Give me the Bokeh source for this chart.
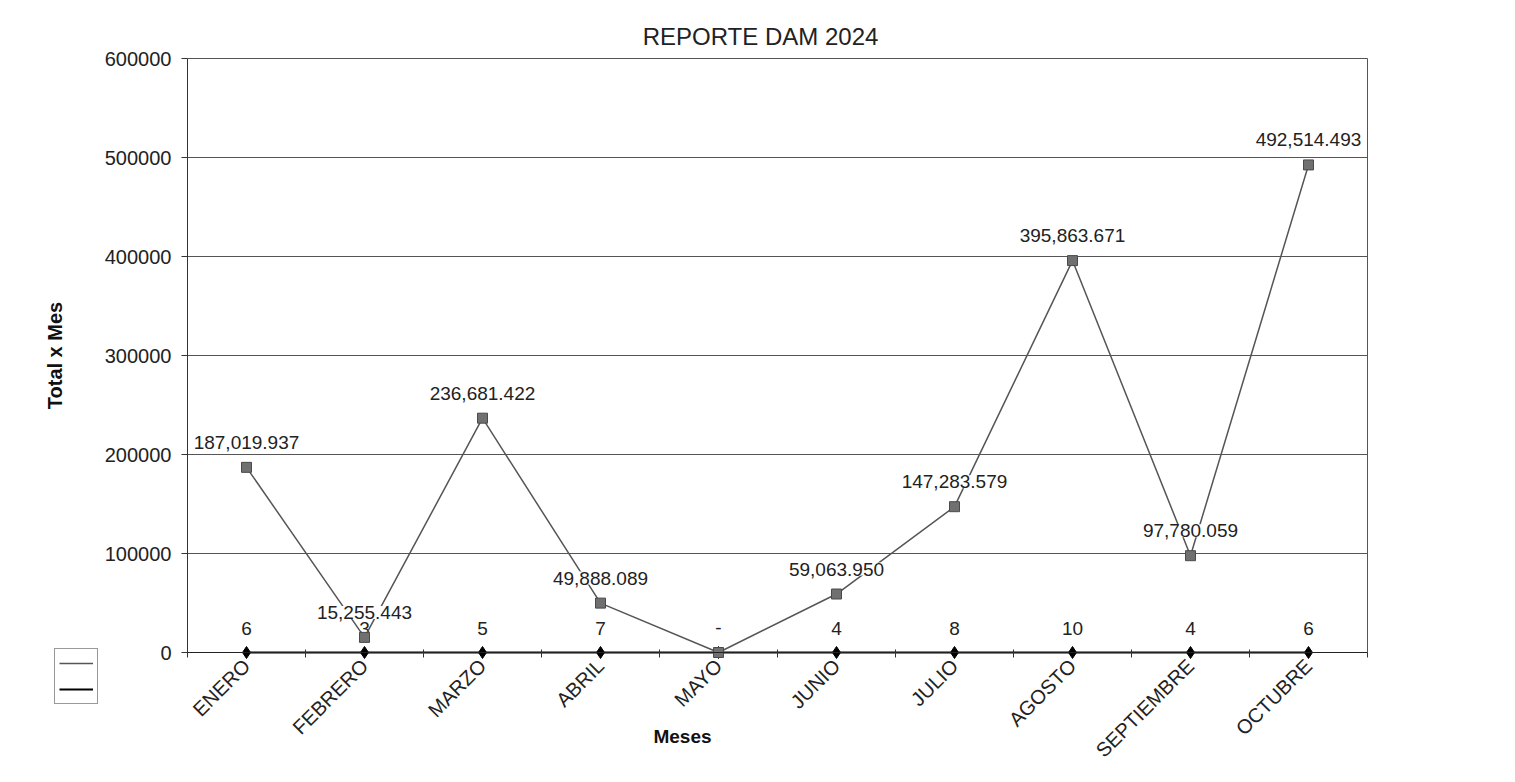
import math
from bokeh.plotting import figure
from bokeh.models import (ColumnDataSource, FixedTicker, LabelSet, Label, Legend,
                          LegendItem, BasicTickFormatter, Range1d, LinearAxis)
from bokeh.core.properties import value
from bokeh.embed import file_html
from bokeh.resources import INLINE

# ---- data ----
months = ["ENERO", "FEBRERO", "MARZO", "ABRIL", "MAYO", "JUNIO",
          "JULIO", "AGOSTO", "SEPTIEMBRE", "OCTUBRE"]
totals = [187019.937, 15255.443, 236681.422, 49888.089, 0.0, 59063.950,
          147283.579, 395863.671, 97780.059, 492514.493]
counts = [6, 3, 5, 7, 0, 4, 8, 10, 4, 6]
y_ticks = [0, 100000, 200000, 300000, 400000, 500000, 600000]
title_text = "REPORTE DAM 2024"
x_title = "Meses"
y_title = "Total x Mes"

x = list(range(1, len(months) + 1))
total_labels = ["-" if v == 0 else "{:,.3f}".format(v) for v in totals]
count_labels = ["" if c == 0 else str(c) for c in counts]

FONT = "Liberation Sans"
W, H = 1507, 774
PX_X = 118.0                   # px per category
PX_Y = 594.0 / 600000.0        # px per unit of value
AX_LEFT_PX, ZERO_PX = 187, 652 # where the plot area starts / where 0 lies
TOP_PX = ZERO_PX - 594         # where the top tick lies

x_lo, x_hi = 0.5, len(months) + 0.5
y_lo, y_hi = y_ticks[0], y_ticks[-1]

src = ColumnDataSource(dict(x=x, total=totals, tlabel=total_labels,
                            count=counts, clabel=count_labels))

# the frame covers the whole canvas; the axes sit at fixed data positions
x_range = Range1d(x_lo - AX_LEFT_PX / PX_X,
                  x_hi + (W - (AX_LEFT_PX + PX_X * len(months))) / PX_X)
y_range = Range1d(-(H - ZERO_PX) / PX_Y, y_hi + TOP_PX / PX_Y)

p = figure(width=W, height=H, output_backend="svg", toolbar_location=None,
           x_range=x_range, y_range=y_range,
           min_border_left=0, min_border_right=0, min_border_top=0,
           min_border_bottom=0)

p.outline_line_color = None
p.xgrid.visible = False
p.ygrid.ticker = FixedTicker(ticks=y_ticks)
p.ygrid.grid_line_color = "#555555"
p.ygrid.grid_line_width = 1
if "cross_bounds" in p.ygrid[0].properties():
    p.ygrid.cross_bounds = (x_lo, x_hi)
else:
    p.ygrid.visible = False
    p.segment(x0=[x_lo] * len(y_ticks), y0=y_ticks, x1=[x_hi] * len(y_ticks),
              y1=y_ticks, line_color="#555555", line_width=1)

# y axis (left)
ya = p.yaxis[0]
ya.fixed_location = x_lo
ya.bounds = (y_lo, y_hi)
ya.ticker = FixedTicker(ticks=y_ticks)
ya.formatter = BasicTickFormatter(use_scientific=False)
ya.major_label_text_font = FONT
ya.major_label_text_font_size = "20px"
ya.major_label_text_color = "#222222"
ya.axis_label = y_title
ya.axis_label_text_font = FONT
ya.axis_label_text_font_size = "20px"
ya.axis_label_text_font_style = "bold"
ya.axis_label_text_color = "#111111"
ya.axis_label_standoff = 36
ya.major_tick_out = 6
ya.major_tick_in = 0
ya.minor_tick_out = 0
ya.minor_tick_in = 0
ya.major_label_standoff = 10
ya.axis_line_color = "#333333"
ya.major_tick_line_color = "#333333"

# right border of the plot area
rb = LinearAxis(fixed_location=x_hi, bounds=(y_lo, y_hi),
                ticker=FixedTicker(ticks=[]), axis_line_color="#555555",
                major_tick_out=0, major_tick_in=0, minor_tick_out=0, minor_tick_in=0,
                major_label_text_font_size="0px")
p.add_layout(rb, "right")

# x axis
xa = p.xaxis[0]
xa.fixed_location = 0
xa.bounds = (x_lo, x_hi)
xa.ticker = FixedTicker(ticks=x, minor_ticks=[i + 0.5 for i in range(0, len(months) + 1)])
xa.major_label_overrides = {i: m for i, m in zip(x, months)}
xa.major_label_orientation = math.pi / 4
xa.major_label_text_font = FONT
xa.major_label_text_font_size = "20px"
xa.major_label_text_color = "#222222"
xa.major_tick_out = 0
xa.major_tick_in = 0
xa.minor_tick_in = 3
xa.minor_tick_out = 5
xa.minor_tick_line_color = "#333333"
xa.axis_line_color = "#222222"
xa.major_label_standoff = 5

# count series (drawn first)
l2 = p.line("x", "count", source=src, line_color="black", line_width=2)
p.scatter("x", "count", source=src, marker="diamond", size=12,
          fill_color="black", line_color="black")
p.text("x", "count", text="clabel", source=src, y_offset=-24,
       text_align="center", text_baseline="middle",
       text_font=value(FONT), text_font_size=value("19px"), text_color="#222222")

# total series
l1 = p.line("x", "total", source=src, line_color="#555555", line_width=1.5)
p.scatter("x", "total", source=src, marker="square", size=10,
          fill_color="#707070", line_color="#4a4a4a")

labels = LabelSet(x="x", y="total", text="tlabel", source=src, y_offset=25,
                  text_align="center", text_baseline="middle",
                  text_font=value(FONT), text_font_size=value("19px"),
                  text_color="#222222", background_fill_color="white",
                  background_fill_alpha=1.0)
p.add_layout(labels)

# legend without text, as in the original
legend = Legend(items=[LegendItem(label="", renderers=[l1]),
                       LegendItem(label="", renderers=[l2])],
                location=(54, H - 704), orientation="vertical",
                glyph_width=34, glyph_height=20, label_width=0, label_standoff=0,
                label_text_font_size="1px", padding=4, spacing=6, margin=0,
                border_line_color="#333333", border_line_width=1,
                background_fill_color="white", background_fill_alpha=1)
p.add_layout(legend)

# chart title and x-axis title
title = Label(x=760, y=H - 36, x_units="screen", y_units="screen", text=title_text,
              text_align="center", text_baseline="middle", text_font=FONT,
              text_font_size="24px", text_color="#222222")
p.add_layout(title)

meses = Label(x=682, y=H - 736, x_units="screen", y_units="screen", text=x_title,
              text_align="center", text_baseline="middle", text_font=FONT,
              text_font_size="19px", text_font_style="bold", text_color="#111111")
p.add_layout(meses)

open("out.html", "w").write(file_html(p, INLINE))
